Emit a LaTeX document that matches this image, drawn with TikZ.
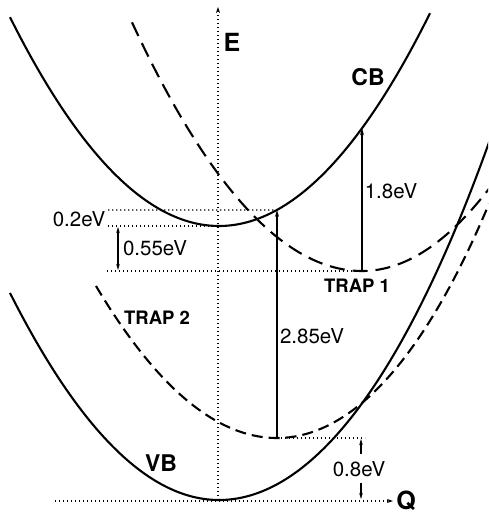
\documentclass[tikz,border=0pt]{standalone}
\usepackage{fontspec}
\setmainfont{TeX Gyre Heros}
\usetikzlibrary{arrows.meta}
\tikzset{
  band/.style={line width=2.1pt},
  trapa/.style={line width=2.1pt, dash pattern=on 15pt off 8pt},
  trapb/.style={line width=2.1pt, dash pattern=on 11pt off 6pt},
  guide/.style={line width=1.3pt, dash pattern=on 1.3pt off 2.7pt},
  axisline/.style={guide, -{Stealth[length=6pt,width=4pt]}},
  gap/.style={line width=1.8pt, -{Stealth[length=7pt,width=4pt]}},
  smallgap/.style={line width=1.2pt, -{Stealth[length=6pt,width=3.5pt]}},
  val/.style={font=\fontsize{20.5}{22}\selectfont, inner sep=0pt},
  tag/.style={font=\fontsize{18.5}{20}\selectfont\bfseries, inner sep=0pt},
  big/.style={font=\fontsize{23}{25}\selectfont\bfseries, inner sep=0pt},
}
\begin{document}
\begin{tikzpicture}[x=1pt,y=-1pt]
\useasboundingbox (0,0) rectangle (488,516);
\begin{scope}
\clip (0,0) rectangle (488,516);
% key points
\coordinate (cbmin) at (219,226);
\coordinate (t1min) at (362,271);
\coordinate (t2min) at (277,438);
\coordinate (vbmin) at (219,500);
\coordinate (cbA) at (362,{226-47.8*(1.43)^2});
\coordinate (cbB) at (277,{226-47.8*(0.58)^2});
% guide lines
\coordinate (l02) at (108,210);
\coordinate (l0c) at (108,226);
\coordinate (l055) at (107,271);
\coordinate (r08) at (365,438);
\coordinate (eb) at (218,500);
\coordinate (et) at (218,7);
\coordinate (qa) at (55,501);
\coordinate (qb) at (393,501);
\draw[guide] (l02) -- (cbB);
\draw[guide] (l0c) -- (cbmin);
\draw[guide] (l055) -- (t1min);
\draw[guide] (t2min) -- (r08);
\draw[axisline] (eb) -- (et);
\draw[axisline] (qa) -- (qb);
% CB
\draw[band] plot[domain=10:430, samples=120] (\x, {226-47.8*((\x-219)/100)^2});
% VB
\draw[band] plot[domain=10:219, samples=80] (\x, {500-47.4*((\x-219)/100)^2});
\draw[band] plot[domain=219:492, samples=100] (\x, {500-46.55*((\x-219)/100)^2-0.343*((\x-219)/100)^4});
% TRAP 1
\draw[trapa] plot[domain=132:362, samples=80] (\x, {271-47*((\x-362)/100)^2})
   -- plot[domain=362:495, samples=60] (\x, {271-51*((\x-362)/100)^2});
% TRAP 2
\draw[trapb] plot[domain=96:277, samples=80] (\x, {438-46.4*((\x-277)/100)^2})
   -- plot[domain=277:495, samples=80] (\x, {438-47.9*((\x-277)/100)^2-0.94*((\x-277)/100)^4});
% gap arrows
\coordinate (a55t) at (118,227);
\coordinate (a55b) at (118,270);
\draw[smallgap, {Stealth[length=6pt,width=3.5pt]}-{Stealth[length=6pt,width=3.5pt]}] (a55t) -- (a55b);
\draw[gap] (t1min) -- (cbA);
\draw[gap] (t2min) -- (cbB);
\coordinate (a08a) at (361,454);
\coordinate (a08b) at (361,439);
\coordinate (a08c) at (361,483);
\coordinate (a08d) at (361,499);
\draw[smallgap] (a08a) -- (a08b);
\draw[smallgap] (a08c) -- (a08d);
\end{scope}
% labels
\node[big, font=\fontsize{25}{27}\selectfont\bfseries] (E) at (232,42) {E};
\node[big, font=\fontsize{25}{27}\selectfont\bfseries] (Q) at (406,501) {Q};
\node[big] (CB) at (368,77) {CB};
\node[big] (VB) at (161,463) {VB};
\node[tag] (T1) at (357,286) {TRAP 1};
\node[tag] (T2) at (157,318) {TRAP 2};
\node[val] (v02) at (79,219) {0.2eV};
\node[val] (v055) at (155,248) {0.55eV};
\node[val] (v18) at (391,191) {1.8eV};
\node[val] (v285) at (312,336) {2.85eV};
\node[val] (v08) at (359,469) {0.8eV};
\end{tikzpicture}
\end{document}
